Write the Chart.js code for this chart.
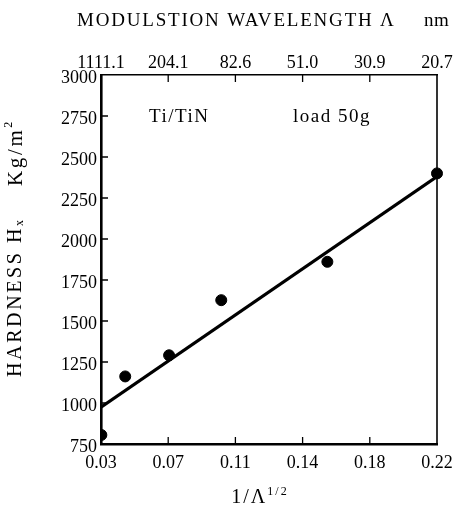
<!DOCTYPE html>
<html>
<head>
<meta charset="utf-8">
<script src="https://cdn.jsdelivr.net/npm/chart.js@4/dist/chart.umd.min.js"></script>
<style>
  html, body { margin: 0; padding: 0; background: #fff; }
</style>
</head>
<body>
<canvas id="hardness" width="462" height="514"></canvas>
<script>
// values
const xTicks = [0.03, 0.068, 0.106, 0.144, 0.182, 0.22];
const xTickLabels = ['0.03', '0.07', '0.11', '0.14', '0.18', '0.22'];
const topTickLabels = ['1111.1', '204.1', '82.6', '51.0', '30.9', '20.7'];
const yTicks = [750, 1000, 1250, 1500, 1750, 2000, 2250, 2500, 2750, 3000];

const pointsX = [0.0302, 0.0437, 0.0685, 0.098, 0.158, 0.22];
const pointsY = [805, 1162, 1291, 1627, 1861, 2400];

const fitX = [0.03, 0.22];
const fitY = [975, 2380];

const FONT = '"Liberation Serif", "DejaVu Serif", serif';

function richText(ctx, x, y, parts, align, spacing) {
    // parts: [text, size, dy]
    ctx.letterSpacing = (spacing || 0) + 'px';
    let total = 0;
    parts.forEach(p => { ctx.font = p[1] + 'px ' + FONT; total += ctx.measureText(p[0]).width; });
    let cx = align === 'center' ? x - total / 2 : x;
    parts.forEach(p => {
        ctx.font = p[1] + 'px ' + FONT;
        ctx.fillText(p[0], cx, y + (p[2] || 0));
        cx += ctx.measureText(p[0]).width;
    });
    ctx.letterSpacing = '0px';
}

const decorations = {
    id: 'decorations',
    afterDraw(chart) {
        const ctx = chart.ctx;
        const a = chart.chartArea;
        const xs = chart.scales.x, ys = chart.scales.y;
        ctx.save();
        ctx.strokeStyle = '#000';
        ctx.fillStyle = '#000';

        // right frame edge
        ctx.lineWidth = 1.6;
        ctx.beginPath();
        ctx.moveTo(a.right, a.top);
        ctx.lineTo(a.right, a.bottom);
        ctx.stroke();

        // inward tick marks
        ctx.lineWidth = 1.3;
        ctx.beginPath();
        yTicks.slice(1, -1).forEach(v => {
            const py = ys.getPixelForValue(v);
            ctx.moveTo(a.left, py);
            ctx.lineTo(a.left + 7, py);
        });
        xTicks.slice(1, -1).forEach(v => {
            const px = xs.getPixelForValue(v);
            ctx.moveTo(px, a.bottom);
            ctx.lineTo(px, a.bottom - 7);
            ctx.moveTo(px, a.top);
            ctx.lineTo(px, a.top + 7);
        });
        ctx.stroke();

        // texts
        ctx.textBaseline = 'middle';
        ctx.textAlign = 'left';
        richText(ctx, 77, 21, [['MODULSTION WAVELENGTH \u039B', 19]], 'left', 1.8);
        richText(ctx, 424, 21, [['nm', 19]], 'left', 0.5);
        richText(ctx, 149, 117, [['Ti/TiN', 19]], 'left', 1.5);
        richText(ctx, 293, 117, [['load 50g', 19]], 'left', 1.5);
        richText(ctx, 260, 498, [['1/\u039B', 20], ['1/2', 12, -6]], 'center', 2);

        ctx.translate(16, 248);
        ctx.rotate(-Math.PI / 2);
        richText(ctx, 0, 0, [['HARDNESS H', 20], ['x', 12, 4], ['    Kg/m', 21], ['2', 12, -7]], 'center', 2.6);
        ctx.restore();
    }
};

const tickFont = { family: FONT, size: 18 };

new Chart(document.getElementById('hardness'), {
    type: 'scatter',
    data: {
        datasets: [
            {
                label: 'fit',
                data: fitX.map((x, i) => ({ x: x, y: fitY[i] })),
                showLine: true,
                borderColor: '#000',
                borderWidth: 3.2,
                pointRadius: 0
            },
            {
                label: 'Hx',
                data: pointsX.map((x, i) => ({ x: x, y: pointsY[i] })),
                backgroundColor: '#000',
                borderColor: '#000',
                pointRadius: 5.5,
                clip: { left: 0, top: false, right: false, bottom: false }
            }
        ]
    },
    plugins: [decorations],
    options: {
        responsive: false,
        animation: false,
        devicePixelRatio: 1,
        layout: { padding: { left: 0, right: 25, top: 0, bottom: 0 } },
        plugins: {
            legend: { display: false },
            tooltip: { enabled: false }
        },
        scales: {
            x: {
                type: 'linear',
                position: 'bottom',
                min: 0.03,
                max: 0.22,
                afterBuildTicks: s => { s.ticks = xTicks.map(v => ({ value: v })); },
                afterFit: s => { s.height = 70; },
                ticks: {
                    callback: (v, i) => xTickLabels[i],
                    font: tickFont,
                    color: '#000',
                    padding: 8,
                    maxRotation: 0,
                    autoSkip: false
                },
                grid: { display: false, drawTicks: false },
                border: { display: true, color: '#000', width: 2.6 }
            },
            x2: {
                type: 'linear',
                position: 'top',
                min: 0.03,
                max: 0.22,
                afterBuildTicks: s => { s.ticks = xTicks.map(v => ({ value: v })); },
                afterFit: s => { s.height = 75; },
                ticks: {
                    callback: (v, i) => topTickLabels[i],
                    font: tickFont,
                    color: '#000',
                    padding: 1,
                    maxRotation: 0,
                    autoSkip: false
                },
                grid: { display: false, drawTicks: false },
                border: { display: true, color: '#000', width: 1.6 }
            },
            y: {
                type: 'linear',
                min: 750,
                max: 3000,
                afterBuildTicks: s => { s.ticks = yTicks.map(v => ({ value: v })); },
                afterFit: s => { s.width = 101; },
                ticks: {
                    callback: v => String(v),
                    font: tickFont,
                    color: '#000',
                    padding: 4,
                    labelOffset: 3
                },
                grid: { display: false, drawTicks: false },
                border: { display: true, color: '#000', width: 2.6 }
            }
        }
    }
});
</script>
</body>
</html>
